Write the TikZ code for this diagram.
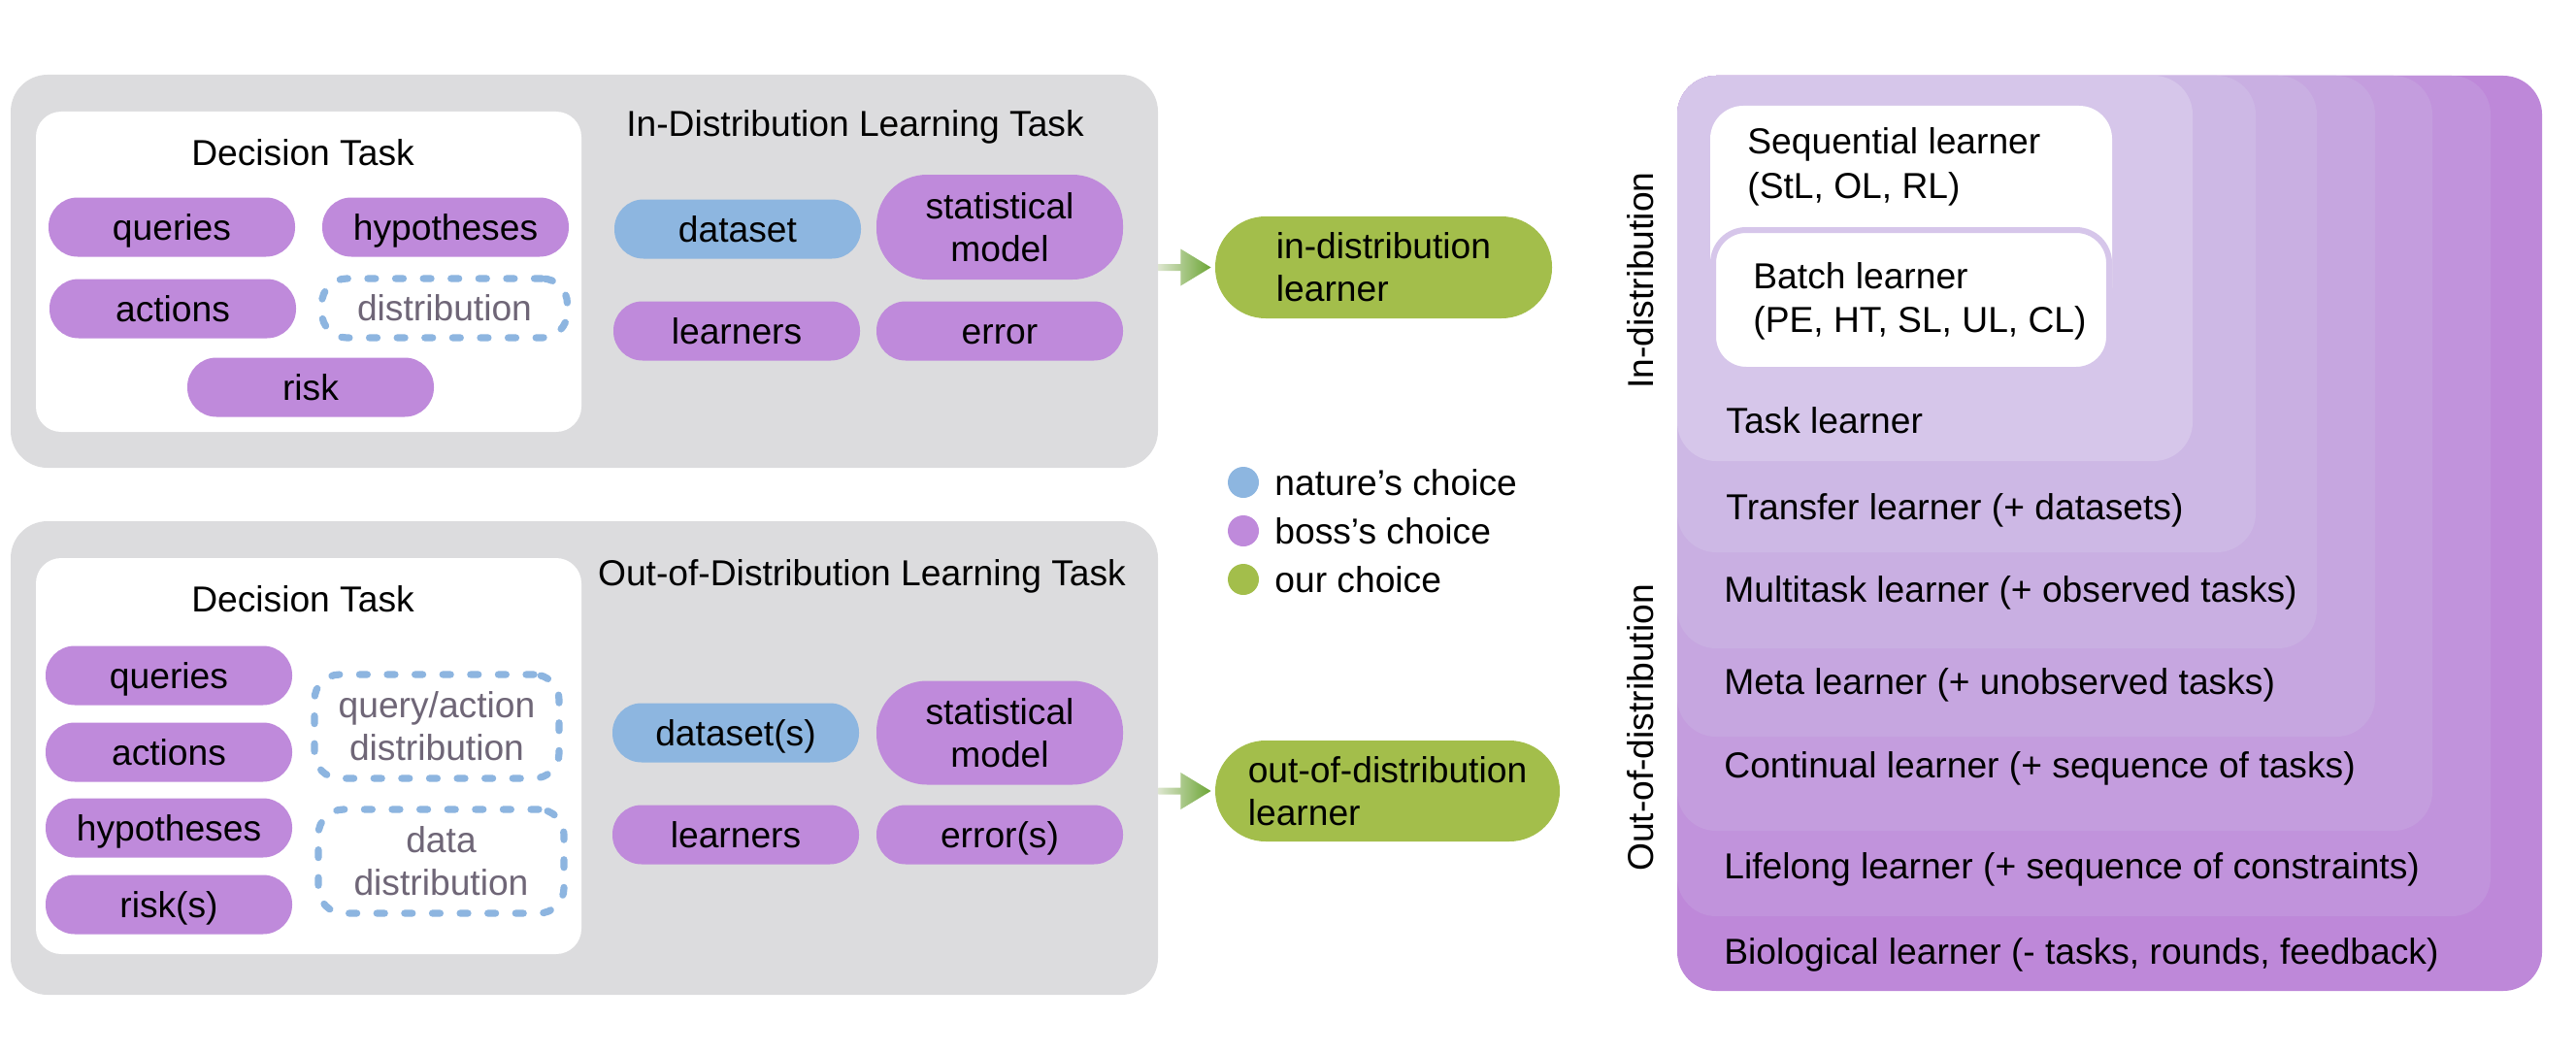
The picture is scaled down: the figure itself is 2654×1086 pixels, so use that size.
\documentclass[tikz,border=0pt]{standalone}
\usepackage{fontspec}
\setmainfont{Liberation Sans}
\usetikzlibrary{calc}
\definecolor{graybg}{HTML}{DCDCDE}
\definecolor{purp}{HTML}{BF8ADB}
\definecolor{bluep}{HTML}{8DB6E0}
\definecolor{greenp}{HTML}{A3BE4B}
\definecolor{dashblue}{HTML}{8DB5E0}
\definecolor{dashtext}{HTML}{6F6677}
\definecolor{arrL}{HTML}{DCE5CE}
\definecolor{arrR}{HTML}{6CA535}
\definecolor{lvA}{HTML}{D6C6EA}
\definecolor{lvB}{HTML}{CDB8E5}
\definecolor{lvC}{HTML}{C9AFE2}
\definecolor{lvD}{HTML}{C6A6E0}
\definecolor{lvE}{HTML}{C49DDE}
\definecolor{lvF}{HTML}{C193DC}
\definecolor{lvG}{HTML}{BE88D9}
\newcommand\mainfs{\fontsize{18.6pt}{22pt}\selectfont}
\begin{document}
\begin{tikzpicture}[x=0.5pt,y=-0.5pt,
  every node/.style={inner sep=0pt, font=\mainfs},
  one/.style={text height=13.4pt, text depth=0pt},
  panel/.style={fill=graybg, rounded corners=19pt, minimum width=591pt},
  card/.style={fill=white, rounded corners=13pt, minimum width=281pt},
  pill/.style={fill=purp, rounded corners=15pt, minimum width=127pt, minimum height=30.5pt, align=center},
  npill/.style={pill, fill=bluep},
  tallpill/.style={pill, rounded corners=26pt, minimum height=54pt},
  dashbox/.style={draw=dashblue, line width=3.6pt, dash pattern=on 4pt off 10.3pt, line cap=round, rounded corners=13pt, text=dashtext, align=center},
  greenpill/.style={fill=greenp, rounded corners=26pt, align=left},
  lbl/.style={one, anchor=west},
  lbl2/.style={anchor=west, align=left, font=\fontsize{18.6pt}{23pt}\selectfont},
  legdot/.style={circle, minimum size=16pt},
  sidelbl/.style={one, rotate=90},
  fancyarrow/.style={left color=arrL, right color=arrR}
]
\useasboundingbox (0,0) rectangle (2654,1086);

% ---------- In-distribution learning task ----------
\node[panel, minimum height=202.5pt] (idpanel) at (602,279.5) {};
\node[card, minimum height=165pt] (idcard) at (318,280) {};
\node[one] (iddt) at (312,157) {Decision Task};
\node[pill,one] (q1) at (177,234) {queries};
\node[pill,one] (h1) at (459,234) {hypotheses};
\node[pill,one] (a1) at (178,318) {actions};
\node[dashbox,one, minimum width=126.5pt, minimum height=30.5pt] (d1) at (458,317.5) {distribution};
\node[pill,one] (r1) at (320,399) {risk};
\node[one] (idlt) at (881,127) {In-Distribution Learning Task};
\node[npill,one] (ds1) at (760,236) {dataset};
\node[tallpill] (sm1) at (1030,234) {statistical\\model};
\node[pill,one] (l1) at (759,341) {learners};
\node[pill,one] (e1) at (1030,341) {error};
\node[greenpill, minimum width=173.5pt, minimum height=52.5pt] (idl) at (1425.5,275.5) {in-distribution\\learner};

% ---------- Out-of-distribution learning task ----------
\node[panel, minimum height=244pt] (odpanel) at (602,781) {};
\node[card, minimum height=204pt] (odcard) at (318,779) {};
\node[one] (oddt) at (312,617) {Decision Task};
\node[pill,one] (q2) at (174,696) {queries};
\node[pill,one] (a2) at (174,775) {actions};
\node[pill,one] (h2) at (174,853) {hypotheses};
\node[pill,one] (r2) at (174,932) {risk(s)};
\node[dashbox, minimum width=126pt, minimum height=53.5pt] (qa2) at (450,748.5) {query/action\\distribution};
\node[dashbox, minimum width=126.5pt, minimum height=53.5pt] (dd2) at (454.5,887.5) {data\\distribution};
\node[one] (odlt) at (888,590) {Out-of-Distribution Learning Task};
\node[npill,one] (ds2) at (758,755) {dataset(s)};
\node[tallpill, minimum height=53.5pt] (sm2) at (1030,755) {statistical\\model};
\node[pill,one] (l2) at (758,860) {learners};
\node[pill,one] (e2) at (1030,860) {error(s)};
\node[greenpill, minimum width=177.5pt, minimum height=52pt] (odl) at (1429.5,815) {out-of-distribution\\learner};

% ---------- arrows ----------
\coordinate (t1) at (idpanel.east |- idl.west);
\shade[fancyarrow] ($(t1)+(0,-3.5)$) -- ($(t1)+(23,-3.5)$) -- ($(t1)+(23,-19)$) -- ($(idl.west)+(-4,0)$) -- ($(t1)+(23,19)$) -- ($(t1)+(23,3.5)$) -- ($(t1)+(0,3.5)$) -- cycle;
\coordinate (t2) at (odpanel.east |- odl.west);
\shade[fancyarrow] ($(t2)+(0,-3.5)$) -- ($(t2)+(23,-3.5)$) -- ($(t2)+(23,-19)$) -- ($(odl.west)+(-4,0)$) -- ($(t2)+(23,19)$) -- ($(t2)+(23,3.5)$) -- ($(t2)+(0,3.5)$) -- cycle;

% ---------- legend ----------
\node[legdot, fill=bluep] (c1) at (1281,497) {};
\node[legdot, fill=purp] (c2) at (1281,547) {};
\node[legdot, fill=greenp] (c3) at (1281,597) {};
\node[lbl] (lg1) at (1313,497) {nature’s choice};
\node[lbl] (lg2) at (1313,547) {boss’s choice};
\node[lbl] (lg3) at (1313,597) {our choice};

% ---------- nested learners ----------
\fill[lvG, rounded corners=20pt] (1728,78) rectangle (2619,1021);
\fill[lvF, rounded corners=20pt] (1728,78) rectangle (2566,944);
\fill[lvE, rounded corners=20pt] (1728,78) rectangle (2506,856);
\fill[lvD, rounded corners=20pt] (1728,78) rectangle (2447,759);
\fill[lvC, rounded corners=20pt] (1728,78) rectangle (2387,668);
\fill[lvB, rounded corners=20pt] (1728,78) rectangle (2324,569);
\fill[lvA, rounded corners=20pt] (1728,78) rectangle (2259,475);
\fill[white, rounded corners=17pt] (1762,109) rectangle (2176,330);
\draw[fill=white, draw=lvA, line width=3pt, rounded corners=17pt] (1765,237) rectangle (2173,381);

\node[lbl2] (seq) at (1800,171.5) {Sequential learner\\(StL, OL, RL)};
\node[lbl2, font=\fontsize{18.6pt}{22.5pt}\selectfont] (bat) at (1806,310.5) {Batch learner\\(PE, HT, SL, UL, CL)};
\node[lbl] (tsk) at (1778,433) {Task learner};
\node[lbl] (trf) at (1778,522) {Transfer learner (+ datasets)};
\node[lbl] (mtl) at (1776,607) {Multitask learner (+ observed tasks)};
\node[lbl] (mta) at (1776,702) {Meta learner (+ unobserved tasks)};
\node[lbl] (ctl) at (1776,788) {Continual learner (+ sequence of tasks)};
\node[lbl] (lfl) at (1776,892) {Lifelong learner (+ sequence of constraints)};
\node[lbl] (bio) at (1776,980) {Biological learner (- tasks, rounds, feedback)};

\node[sidelbl] (sid1) at (1690,289) {In-distribution};
\node[sidelbl] (sid2) at (1690,750) {Out-of-distribution};
\end{tikzpicture}
\end{document}
